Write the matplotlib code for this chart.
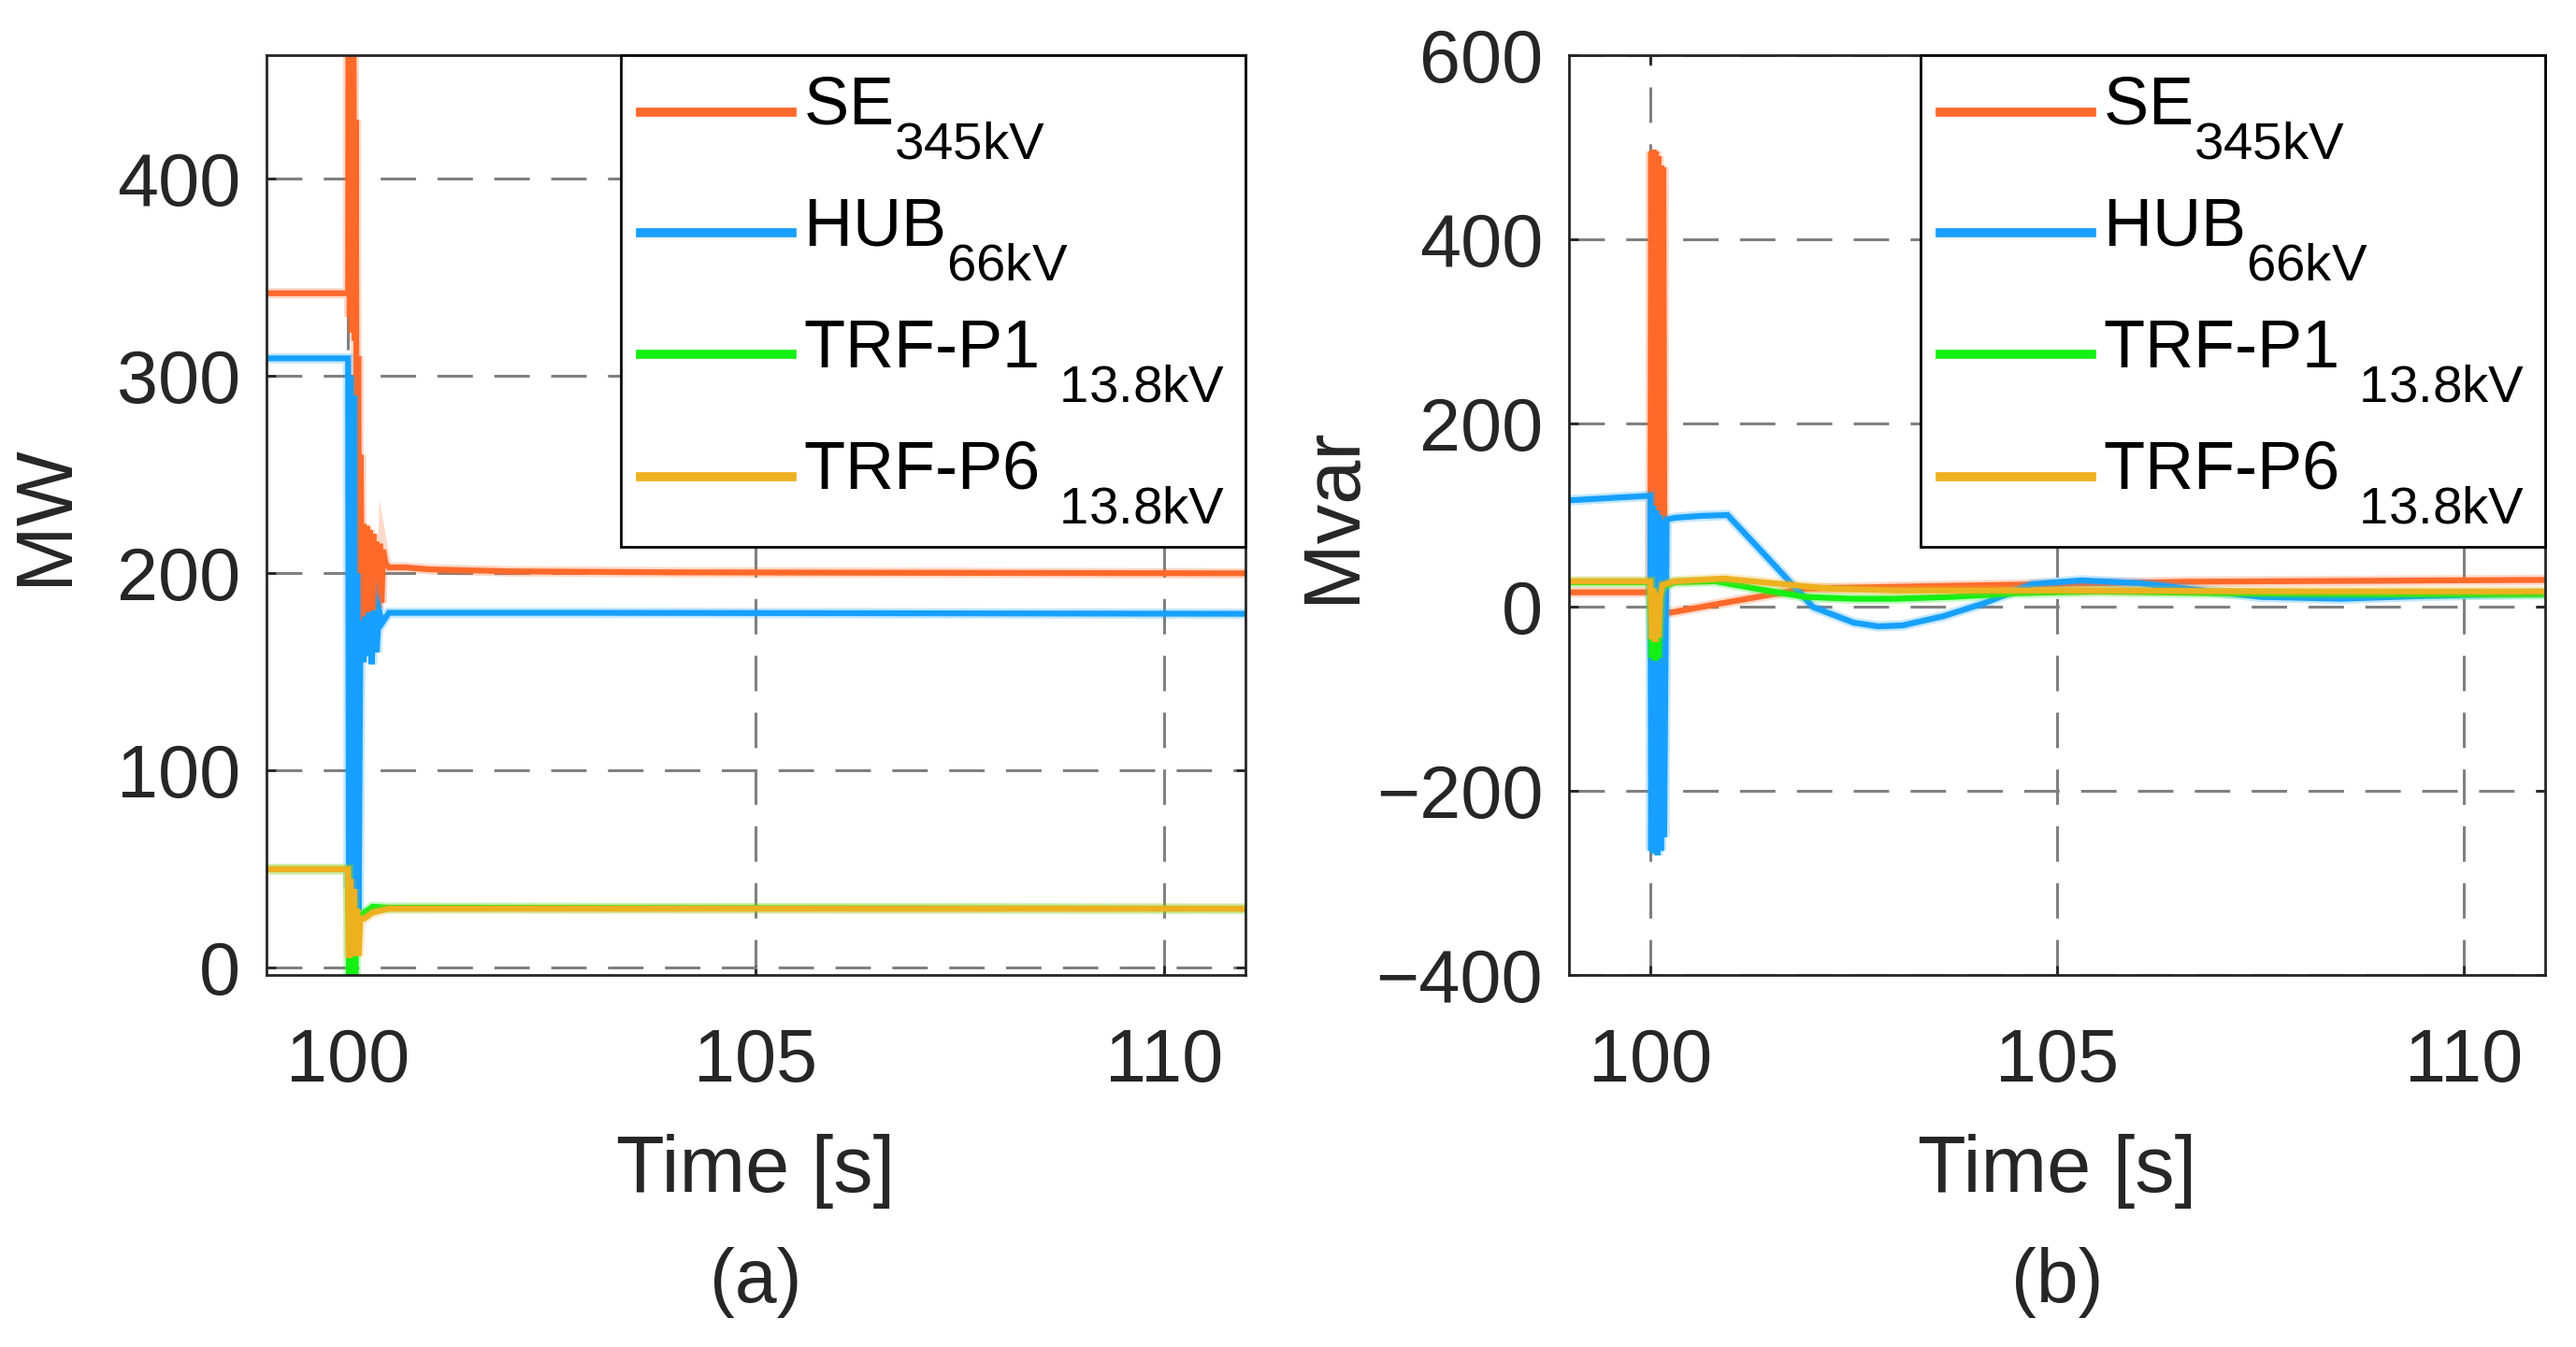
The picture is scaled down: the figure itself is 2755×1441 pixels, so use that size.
import matplotlib
matplotlib.use('Agg')
from matplotlib import pyplot as plt
from matplotlib.legend_handler import HandlerLine2D
import matplotlib._mathtext as mathtext_internal
import numpy as np

plt.rcParams['font.family'] = ['Liberation Sans', 'DejaVu Sans']
plt.rcParams['mathtext.fontset'] = 'custom'
plt.rcParams['mathtext.rm'] = 'Liberation Sans'

# globlji in večji indeksi, kot v MATLAB-u
mathtext_internal.SHRINK_FACTOR = 0.78
mathtext_internal.FontConstantsBase.sub1 = 0.95

# legenda
labels = [r'SE$_{\mathregular{345kV}}$', r'HUB$_{\mathregular{66kV}}$',
          r'TRF-P1 $_{\mathregular{13.8kV}}$', r'TRF-P6 $_{\mathregular{13.8kV}}$']
colors = ['#FF6A2B', '#17A0FF', '#14F014', '#EDB120']

# (a) delovna moč [MW]
t_p_se = [99.0, 100.0, 100.005, 100.02, 100.035, 100.05, 100.065, 100.08, 100.095, 100.11,
          100.125, 100.14, 100.155, 100.17, 100.19, 100.21, 100.23, 100.25, 100.27, 100.29,
          100.31, 100.33, 100.35, 100.37, 100.39, 100.41, 100.43, 100.46, 100.5, 100.7,
          101.0, 102.0, 104.0, 111.0]
p_se = [342, 342, 520, 330, 520, 322, 500, 318, 430, 168,
        310, 170, 260, 172, 225, 171, 224, 173, 222, 176,
        220, 180, 216, 182, 215, 185, 212, 205, 203, 203,
        202, 201, 200.5, 200]

t_p_hub = [99.0, 100.0, 100.01, 100.03, 100.05, 100.07, 100.09, 100.11, 100.13, 100.15,
           100.17, 100.19, 100.21, 100.23, 100.26, 100.29, 100.32, 100.35, 100.38, 100.42,
           100.5, 101.0, 103.0, 111.0]
p_hub = [309, 309, 40, 300, 30, 290, 29, 200, 29, 160,
         176, 155, 178, 158, 180, 154, 181, 160, 181, 175,
         180, 180, 180, 179.5]

t_p_p1 = [99.0, 100.0, 100.01, 100.03, 100.05, 100.07, 100.09, 100.11, 100.14, 100.2,
          100.3, 100.5, 111.0]
p_p1 = [50, 50, -4, 40, -4, 35, -4, 27, 26, 28, 31, 30.5, 30]

t_p_p6 = [99.0, 100.0, 100.01, 100.03, 100.05, 100.07, 100.09, 100.11, 100.13, 100.15,
          100.2, 100.3, 100.5, 111.0]
p_p6 = [50, 50, 5, 45, 6, 40, 7, 30, 6, 25, 25, 28, 30, 30]

# (b) jalova moč [Mvar]
t_q_se = [99.0, 100.0, 100.01, 100.025, 100.04, 100.055, 100.07, 100.085, 100.1, 100.115,
          100.13, 100.145, 100.16, 100.175, 100.2, 100.25, 101.0, 101.9, 103.0, 104.3,
          106.6, 111.0]
q_se = [16, 16, 495, -5, 497, -5, 495, -5, 490, -5,
        480, -5, 478, -8, -6, -6, 6, 20, 22, 24,
        27.5, 29.5]

t_q_hub = [99.0, 100.0, 100.01, 100.03, 100.05, 100.07, 100.09, 100.11, 100.13, 100.15,
           100.17, 100.2, 100.3, 100.6, 100.95, 101.5, 102.0, 102.5, 102.8, 103.1,
           103.6, 104.1, 104.7, 105.3, 106.0, 106.8, 107.5, 108.5, 109.5, 111.0]
q_hub = [116, 121, -265, 110, -268, 105, -270, 100, -265, 95,
         -250, 95, 97, 99, 100, 48, 0, -17, -21, -20,
         -10, 4, 25, 29, 26, 18, 11, 9, 12, 15]

t_q_p1 = [99.0, 100.0, 100.02, 100.04, 100.06, 100.08, 100.1, 100.12, 100.15, 100.3,
          100.8, 101.3, 101.9, 102.5, 103.0, 103.7, 104.5, 105.5, 107.0, 109.0, 111.0]
q_p1 = [27, 27, -55, 20, -58, 15, -55, 10, 22, 27,
        28, 20, 11, 9, 9, 11, 15, 17, 15, 14, 14]

t_q_p6 = [99.0, 100.0, 100.02, 100.04, 100.06, 100.08, 100.1, 100.12, 100.15, 100.3,
          100.9, 101.5, 102.2, 103.0, 105.0, 108.0, 111.0]
q_p6 = [28, 28, -35, 20, -38, 15, -33, 10, 24, 28,
        31, 26, 20, 18, 18, 17, 17]


class LowLine(HandlerLine2D):
    # črta v legendi nekoliko nižje (na sredini besedila z indeksom)
    def create_artists(self, legend, orig_handle, xdescent, ydescent,
                       width, height, fontsize, trans):
        arts = super().create_artists(legend, orig_handle, xdescent, ydescent,
                                      width, height, fontsize, trans)
        for a in arts:
            a.set_ydata(np.asarray(a.get_ydata()) - 0.16 * fontsize)
        return arts


W, H = 2755, 1441
fig = plt.figure(figsize=(W / 100, H / 100), dpi=100)

ax_a = fig.add_axes([285 / W, 1 - 1043 / H, 1047 / W, 984 / H])
ax_b = fig.add_axes([1678 / W, 1 - 1043 / H, 1044 / W, 984 / H])

series_a = [(t_p_se, p_se), (t_p_hub, p_hub), (t_p_p1, p_p1), (t_p_p6, p_p6)]
series_b = [(t_q_se, q_se), (t_q_hub, q_hub), (t_q_p1, q_p1), (t_q_p6, q_p6)]

k = '#262626'
for ax, series in [(ax_a, series_a), (ax_b, series_b)]:
    handles = []
    for (t, y), c, lab in zip(series, colors, labels):
        ax.plot(t, y, color=c, lw=8, alpha=0.25, solid_joinstyle='miter')
        ln, = ax.plot(t, y, color=c, lw=4.5, label=lab, solid_joinstyle='miter')
        handles.append(ln)
    ax.set_xlim(99, 111)
    ax.set_xticks([100, 105, 110])
    ax.grid(True, color='#808080', lw=2.2, ls=(0, (12.4, 7.5)))
    ax.set_axisbelow(True)
    for s in ax.spines.values():
        s.set_linewidth(2)
        s.set_color(k)
    ax.tick_params(direction='in', length=7, width=2, color=k, top=True, right=True,
                   labelsize=57, labelcolor=k)
    ax.tick_params(axis='x', pad=40)
    ax.tick_params(axis='y', pad=20)
    ax.set_xlabel('Time [s]', fontsize=61, color=k)
    ax.xaxis.set_label_coords(0.5, -0.236)
    ax.xaxis.label.set_va('baseline')
    leg = ax.legend(handles=handles, loc='upper right', bbox_to_anchor=(1, 1),
                    borderaxespad=0, fontsize=52, fancybox=False, framealpha=1,
                    edgecolor='black', handlelength=2.24, handletextpad=0.17,
                    borderpad=0.3, labelspacing=0.53,
                    handler_map={h: LowLine() for h in handles})
    leg.get_frame().set_linewidth(2)
    for h in leg.get_lines():
        h.set_linewidth(7)

ax_a.set_ylim(-3.6, 462.7)
ax_a.set_yticks([0, 100, 200, 300, 400])
ax_a.set_ylabel('MW', fontsize=61, color=k)
ax_a.yaxis.set_label_coords((49 - 285) / 1047, 0.5)
ax_a.yaxis.label.set_va('center')

ax_b.set_ylim(-400, 600)
ax_b.set_yticks([-400, -200, 0, 200, 400, 600])
ax_b.set_ylabel('Mvar', fontsize=61, color=k)
ax_b.yaxis.set_label_coords((1426 - 1678) / 1044, 0.5)
ax_b.yaxis.label.set_va('center')

fig.text((285 + 1047 / 2) / W, 1 - 1393 / H, '(a)', ha='center', va='baseline',
         fontsize=58, color=k)
fig.text((1678 + 1044 / 2) / W, 1 - 1393 / H, '(b)', ha='center', va='baseline',
         fontsize=58, color=k)

fig.savefig('out.png', dpi=100)
